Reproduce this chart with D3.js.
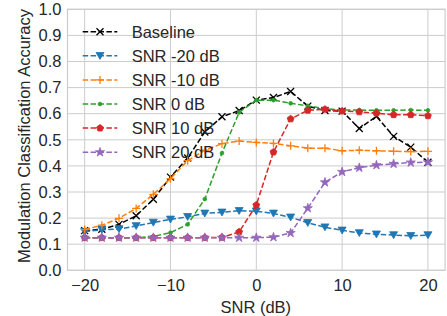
<!DOCTYPE html>
<html>
<head>
<meta charset="utf-8">
<script src="https://cdn.jsdelivr.net/npm/d3@7"></script>
<style>
  body { margin: 0; background: #fff; }
  text { font-family: "Liberation Sans", Arial, sans-serif; fill: #262626; }
</style>
</head>
<body>
<div id="chart"></div>
<script>
(function () {

  // data
  var snr = [-20, -18, -16, -14, -12, -10, -8, -6, -4, -2, 0, 2, 4, 6, 8, 10, 12, 14, 16, 18, 20]

  var baseline = [0.152, 0.157, 0.176, 0.209, 0.272, 0.357, 0.43, 0.53, 0.588, 0.612, 0.652, 0.662, 0.685, 0.629, 0.612, 0.61, 0.543, 0.59, 0.513, 0.472, 0.414]
  var snrMinus20 = [0.148, 0.155, 0.158, 0.17, 0.183, 0.195, 0.205, 0.218, 0.222, 0.228, 0.226, 0.218, 0.203, 0.182, 0.165, 0.153, 0.143, 0.138, 0.135, 0.132, 0.135]
  var snrMinus10 = [0.156, 0.173, 0.199, 0.237, 0.291, 0.351, 0.42, 0.46, 0.485, 0.495, 0.49, 0.486, 0.477, 0.468, 0.468, 0.458, 0.46, 0.458, 0.456, 0.455, 0.456]
  var snr0 = [0.125, 0.125, 0.125, 0.125, 0.13, 0.144, 0.176, 0.273, 0.449, 0.605, 0.652, 0.652, 0.64, 0.63, 0.619, 0.614, 0.614, 0.613, 0.613, 0.614, 0.613]
  var snr10 = [0.125, 0.125, 0.125, 0.125, 0.125, 0.125, 0.125, 0.125, 0.126, 0.147, 0.25, 0.453, 0.58, 0.613, 0.617, 0.61, 0.607, 0.602, 0.596, 0.596, 0.592]
  var snr20 = [0.125, 0.125, 0.125, 0.125, 0.125, 0.125, 0.125, 0.125, 0.125, 0.125, 0.125, 0.127, 0.143, 0.238, 0.337, 0.377, 0.393, 0.403, 0.408, 0.413, 0.414]

  var seriesNames = ["Baseline", "SNR -20 dB", "SNR -10 dB", "SNR 0 dB", "SNR 10 dB", "SNR 20 dB"]
  var seriesValues = [baseline, snrMinus20, snrMinus10, snr0, snr10, snr20]
  var seriesColors = ["#000000", "#1f77b4", "#ff7f0e", "#2ca02c", "#d62728", "#9467bd"]
  var seriesMarkers = ["x", "v", "+", ".", "p", "*"]

  var xTicks = [-20, -10, 0, 10, 20]
  var yTicks = [0, 0.1, 0.2, 0.3, 0.4, 0.5, 0.6, 0.7, 0.8, 0.9, 1.0]

  var width = 447, height = 316
  var plot = { left: 67.5, right: 445.1, top: 9.3, bottom: 270.3 }

  var svg = d3.select("#chart").append("svg")
    .attr("width", width)
    .attr("height", height)

  var xPositionScale = d3.scaleLinear().domain([-22, 22]).range([plot.left, plot.right])
  var yPositionScale = d3.scaleLinear().domain([0, 1]).range([plot.bottom, plot.top])

  // grid
  svg.append("g").selectAll("line")
    .data(yTicks)
    .enter().append("line")
    .attr("x1", plot.left).attr("x2", plot.right)
    .attr("y1", function (d) { return yPositionScale(d) })
    .attr("y2", function (d) { return yPositionScale(d) })
    .attr("stroke", "#cccccc").attr("stroke-width", 1)

  svg.append("g").selectAll("line")
    .data(xTicks)
    .enter().append("line")
    .attr("y1", plot.top).attr("y2", plot.bottom)
    .attr("x1", function (d) { return xPositionScale(d) })
    .attr("x2", function (d) { return xPositionScale(d) })
    .attr("stroke", "#cccccc").attr("stroke-width", 1)

  svg.append("rect")
    .attr("x", plot.left).attr("y", plot.top)
    .attr("width", plot.right - plot.left)
    .attr("height", plot.bottom - plot.top)
    .attr("fill", "none").attr("stroke", "#cccccc").attr("stroke-width", 1.2)

  // axes (labels only, seaborn whitegrid has no tick marks)
  var xAxis = d3.axisBottom(xPositionScale)
    .tickValues(xTicks)
    .tickSize(0)
    .tickPadding(9)
    .tickFormat(function (d) { return d < 0 ? "\u2212" + Math.abs(d) : d })

  svg.append("g")
    .attr("class", "axis x-axis")
    .attr("transform", "translate(0," + plot.bottom + ")")
    .call(xAxis)

  var yAxis = d3.axisLeft(yPositionScale)
    .tickValues(yTicks)
    .tickSize(0)
    .tickPadding(6)
    .tickFormat(d3.format(".1f"))

  svg.append("g")
    .attr("class", "axis y-axis")
    .attr("transform", "translate(" + plot.left + ",0)")
    .call(yAxis)

  svg.selectAll(".axis .domain").remove()
  svg.selectAll(".axis text")
    .style("font-size", "16.5px")
    .attr("fill", "#262626")
    .style("font-family", "'Liberation Sans', Arial, sans-serif")

  svg.append("text")
    .attr("x", (plot.left + plot.right) / 2 - 0.5)
    .attr("y", 312.5)
    .attr("text-anchor", "middle")
    .style("font-size", "16.5px")
    .text("SNR (dB)")

  svg.append("text")
    .attr("transform", "translate(30,136) rotate(-90)")
    .attr("text-anchor", "middle")
    .style("font-size", "16.5px")
    .text("Modulation Classification Accuracy")

  // marker shapes
  function markerPath(type) {
    if (type === "x") return "M-3.5,-3.5L3.5,3.5M-3.5,3.5L3.5,-3.5"
    if (type === "+") return "M-4,0L4,0M0,-4L0,4"
    if (type === "v") return "M-4,-3.3L4,-3.3L0,3.6Z"
    if (type === ".") return d3.symbol().type(d3.symbolCircle).size(11)()
    if (type === "*") return d3.symbol().type(d3.symbolStar).size(26)()
    if (type === "p") {
      var pts = d3.range(5).map(function (i) {
        var a = -Math.PI / 2 + i * 2 * Math.PI / 5
        return [3.6 * Math.cos(a), 3.6 * Math.sin(a)]
      })
      return "M" + pts.join("L") + "Z"
    }
  }

  function drawMarker(g, type, color) {
    var open = (type === "x" || type === "+")
    g.append("path")
      .attr("d", markerPath(type))
      .attr("fill", open ? "none" : color)
      .attr("stroke", color)
      .attr("stroke-width", open ? 1.3 : 0.8)
  }

  var line = d3.line()
    .x(function (d) { return xPositionScale(d.x) })
    .y(function (d) { return yPositionScale(d.y) })

  seriesValues.forEach(function (values, i) {
    var points = snr.map(function (x, j) { return { x: x, y: values[j] } })
    var g = svg.append("g").attr("class", "series")

    g.append("path")
      .datum(points)
      .attr("d", line)
      .attr("fill", "none")
      .attr("stroke", seriesColors[i])
      .attr("stroke-width", 1.5)
      .attr("stroke-dasharray", "5.5,2.4")

    g.selectAll(".pt")
      .data(points)
      .enter().append("g")
      .attr("class", "pt")
      .attr("transform", function (d) { return "translate(" + xPositionScale(d.x) + "," + yPositionScale(d.y) + ")" })
      .each(function () { drawMarker(d3.select(this), seriesMarkers[i], seriesColors[i]) })
  })

  // legend
  var legend = svg.append("g").attr("class", "legend")
  seriesNames.forEach(function (name, i) {
    var row = legend.append("g")
      .attr("transform", "translate(0," + (31.7 + i * 24.1) + ")")
    row.append("line")
      .attr("x1", 82.7).attr("x2", 117.3)
      .attr("stroke", seriesColors[i])
      .attr("stroke-width", 1.5)
      .attr("stroke-dasharray", "5.5,2.4")
    var m = row.append("g").attr("transform", "translate(100,0)")
    drawMarker(m, seriesMarkers[i], seriesColors[i])
    row.append("text")
      .attr("x", 131.7)
      .attr("dy", "0.36em")
      .style("font-size", "16.5px")
      .text(name)
  })

})()
</script>
</body>
</html>
